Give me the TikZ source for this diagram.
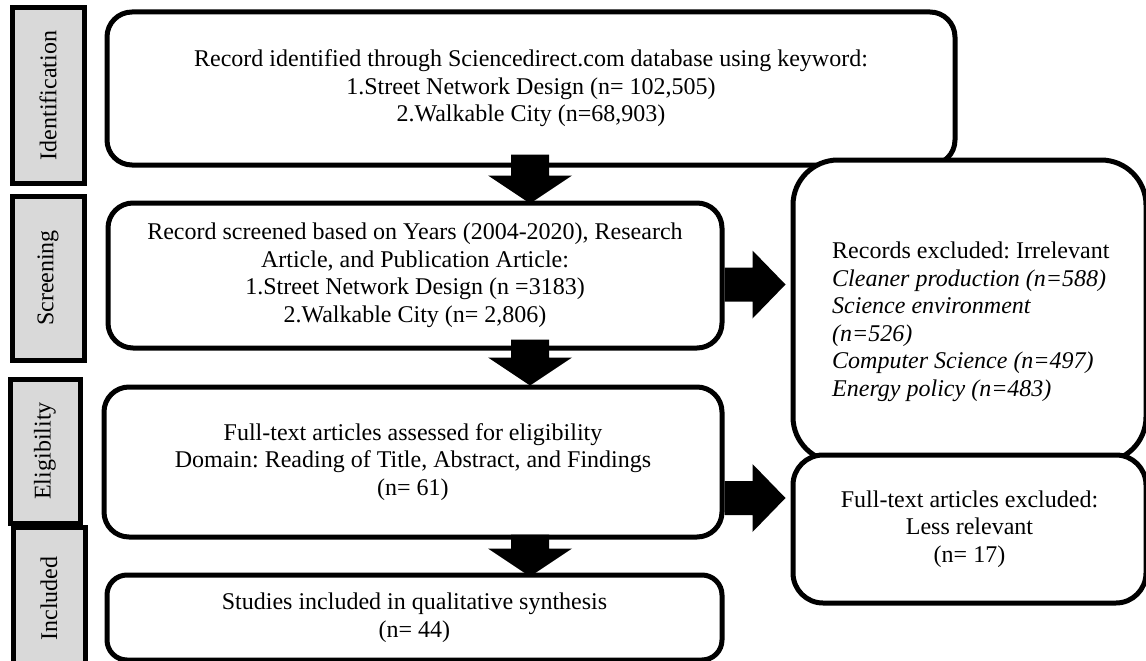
\documentclass[tikz,border=0pt]{standalone}
\usepackage{fontspec}
\setmainfont{Liberation Serif}
\frenchspacing
\usetikzlibrary{calc}
\definecolor{labgray}{HTML}{D9D9D9}
\tikzset{
  txt/.style={font=\fontsize{24}{27.5}\selectfont\frenchspacing},
  box/.style={txt, draw=black, line width=5pt, rounded corners=25pt, fill=white, inner sep=0pt, align=center},
  lab/.style={txt, draw=black, line width=5pt, fill=labgray, inner sep=0pt, rotate=90},
  blockarrow/.style={fill=black},
}
\newcommand{\blockdown}[2]{\fill[blockarrow] ($(#1)+(-19,0)$) -- ($(#2)+(-19,-28)$) -- ($(#2)+(-42,-28)$) -- (#2) -- ($(#2)+(42,-28)$) -- ($(#2)+(19,-28)$) -- ($(#1)+(19,0)$) -- cycle;}
\newcommand{\blockright}[2]{\fill[blockarrow] ($(#1)+(0,-17)$) -- ($(#2)+(-33,-17)$) -- ($(#2)+(-33,-34)$) -- (#2) -- ($(#2)+(-33,34)$) -- ($(#2)+(-33,17)$) -- ($(#1)+(0,17)$) -- cycle;}
\begin{document}
\begin{tikzpicture}[x=1pt, y=-1pt]
\useasboundingbox (0,0) rectangle (1146,661);
% stage labels
\node[lab, minimum width=175pt, minimum height=72pt] (lid) at (48,95.5) {Identification};
\node[lab, minimum width=164pt, minimum height=72pt] (lsc) at (48,278) {Screening};
\node[lab, minimum width=144pt, minimum height=70pt] (lel) at (45,451) {Eligibility};
\node[lab, minimum width=143pt, minimum height=72pt] (lin) at (49,598.5) {Included};
% main boxes
\node[box, minimum width=848pt, minimum height=153pt] (b1) at (531,88.5)
  {\raisebox{-4pt}{\begin{tabular}{@{}c@{}}Record identified through Sciencedirect.com database using keyword:\\1.Street Network Design (n= 102,505)\\2.Walkable City (n=68,903)\end{tabular}}};
\node[box, rounded corners=45pt, minimum width=353pt, minimum height=302pt] (e1) at (969.5,311) {};
\node[txt, align=left, anchor=west, inner sep=0pt] (e1t) at (832,322)
  {Records excluded: Irrelevant\\\textit{Cleaner production (n=588)}\\\textit{Science environment}\\\textit{(n=526)}\\\textit{Computer Science (n=497)}\\\textit{Energy policy (n=483)}};
\node[box, rounded corners=30pt, minimum width=353pt, minimum height=148pt] (e2) at (969.5,529)
  {Full-text articles excluded:\\Less relevant\\(n= 17)};
\node[box, minimum width=614pt, minimum height=145pt] (b2) at (415,275.5)
  {\raisebox{-3pt}{\begin{tabular}{@{}c@{}}Record screened based on Years (2004-2020), Research\\Article, and Publication Article:\\1.Street Network Design (n =3183)\\2.Walkable City (n= 2,806)\end{tabular}}};
\node[box, minimum width=618pt, minimum height=150pt] (b3) at (413,462)
  {Full-text articles assessed for eligibility\\Domain: Reading of Title, Abstract, and Findings\\(n= 61)};
\node[box, rounded corners=20pt, minimum width=615pt, minimum height=85pt] (b4) at (414.5,617.5)
  {Studies included in qualitative synthesis\\(n= 44)};
% arrows down
\coordinate (a1s) at ($(b1.south)+(-1,-13)$);
\coordinate (a1t) at ($(b1.south |- b2.north)+(-1,3)$);
\coordinate (a2s) at ($(b1.south |- b2.south)+(-1,-11)$);
\coordinate (a2t) at ($(b1.south |- b3.north)+(-1,1)$);
\coordinate (a3s) at ($(b1.south |- b3.south)+(-1,-5)$);
\coordinate (a3t) at ($(b1.south |- b4.north)+(-1,4)$);
\blockdown{a1s}{a1t}
\blockdown{a2s}{a2t}
\blockdown{a3s}{a3t}
% arrows right
\coordinate (r1s) at ($(b2.east)+(0,9)$);
\coordinate (r1t) at ($(e1.west |- r1s)+(-5,0)$);
\coordinate (r2s) at ($(b3.east)+(0,36)$);
\coordinate (r2t) at ($(e2.west |- r2s)+(-5,0)$);
\blockright{r1s}{r1t}
\blockright{r2s}{r2t}
\end{tikzpicture}
\end{document}
